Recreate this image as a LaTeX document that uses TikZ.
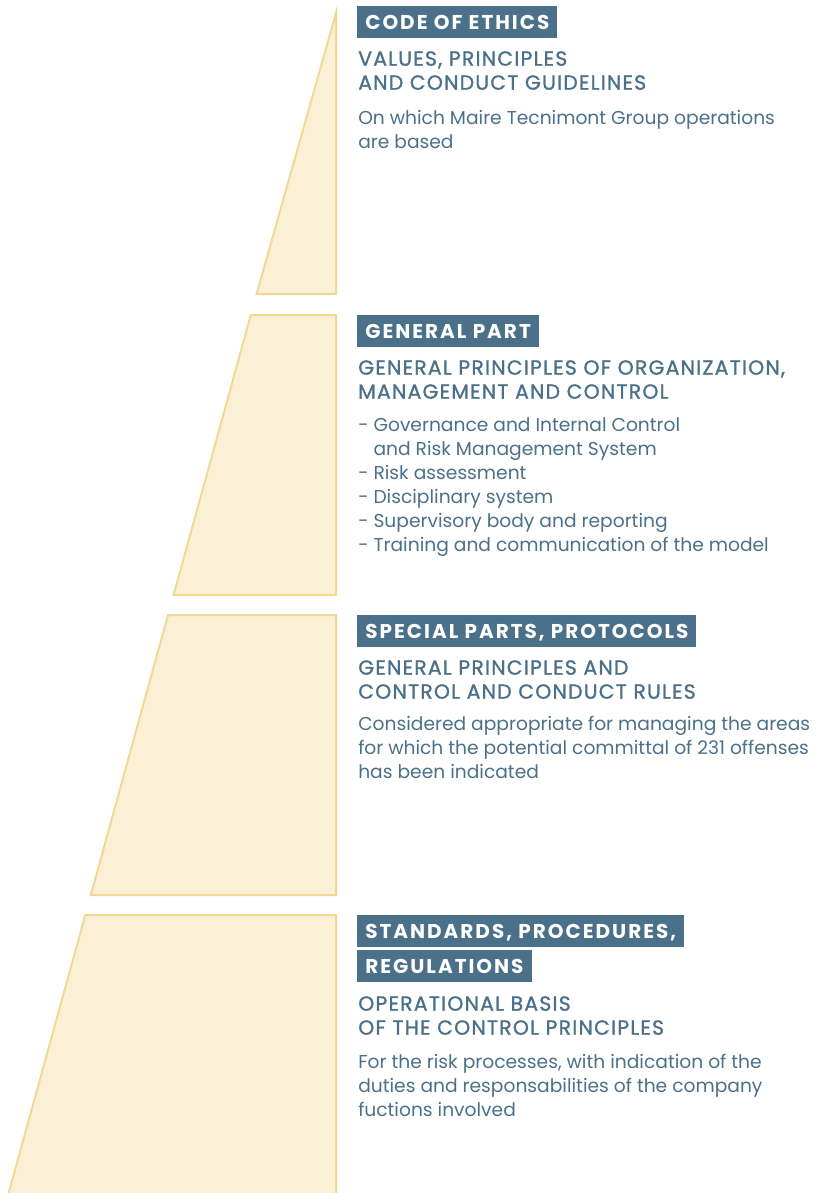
\documentclass[tikz,border=0pt]{standalone}
\usepackage{fontspec}
\setmainfont{Poppins}
\newfontfamily\tagfont{Poppins}[LetterSpace=10]
\newfontfamily\medfont{Poppins}[FakeBold=1.2, LetterSpace=6]
\usetikzlibrary{positioning}
\definecolor{slate}{HTML}{4B7089}
\definecolor{sand}{HTML}{FBEFD6}
\definecolor{sandline}{HTML}{F2D892}
\begin{document}
\begin{tikzpicture}[x=0.75pt, y=-0.75pt,
  slab/.style={fill=sand, draw=sandline, line width=1.5pt},
  tag/.style={fill=slate, text=white, font=\tagfont\bfseries\fontsize{15}{18}\selectfont,
    anchor=north west, inner xsep=6pt, inner ysep=6.75pt, text height=10.5pt, text depth=0pt},
  sub/.style={text=slate, font=\medfont\fontsize{15.3}{18}\selectfont, anchor=north west, inner sep=0pt, align=left},
  body/.style={text=slate, font=\fontsize{14}{18}\selectfont, anchor=north west, inner sep=0pt, align=left}]
\useasboundingbox (0,0) rectangle (823,1193);
\clip (0,0) rectangle (823,1193);
% the four slabs of the pyramid
\draw[slab] (336,13) -- (256.6,294) -- (336,294) -- cycle;
\draw[slab] (250.8,315) -- (173.6,595) -- (336,595) -- (336,315) -- cycle;
\draw[slab] (168,615) -- (90.8,895) -- (336,895) -- (336,615) -- cycle;
\draw[slab] (85.3,915) -- (6.7,1200) -- (336,1200) -- (336,915) -- cycle;
% code of ethics
\node[tag] (tagEthics) at (357,6) {CODE OF ETHICS};
\node[sub] (subEthics) at (358,51) {VALUES, PRINCIPLES\\AND CONDUCT GUIDELINES};
\node[body] (txtEthics) at (358,110) {On which Maire Tecnimont Group operations\\are based};
% general part
\node[tag] (tagGeneral) at (357,315) {GENERAL PART};
\node[sub] (subGeneral) at (358,360) {GENERAL PRINCIPLES OF ORGANIZATION,\\MANAGEMENT AND CONTROL};
\node[body] (txtGeneral) at (358,417) {- Governance and Internal Control\\
  \hphantom{- }and Risk Management System\\
  - Risk assessment\\
  - Disciplinary system\\
  - Supervisory body and reporting\\
  - Training and communication of the model};
% special parts
\node[tag] (tagSpecial) at (357,615) {SPECIAL PARTS, PROTOCOLS};
\node[sub] (subSpecial) at (358,660) {GENERAL PRINCIPLES AND\\CONTROL AND CONDUCT RULES};
\node[body] (txtSpecial) at (358,716) {Considered appropriate for managing the areas\\
  for which the potential committal of 231 offenses\\has been indicated};
% standards
\node[tag] (tagStandards) at (357,915) {STANDARDS, PROCEDURES,};
\node[tag] (tagRegulations) at (357,950) {REGULATIONS};
\node[sub] (subStandards) at (358,996) {OPERATIONAL BASIS\\OF THE CONTROL PRINCIPLES};
\node[body] (txtStandards) at (358,1054) {For the risk processes, with indication of the\\
  duties and responsabilities of the company\\fuctions involved};
\end{tikzpicture}
\end{document}
